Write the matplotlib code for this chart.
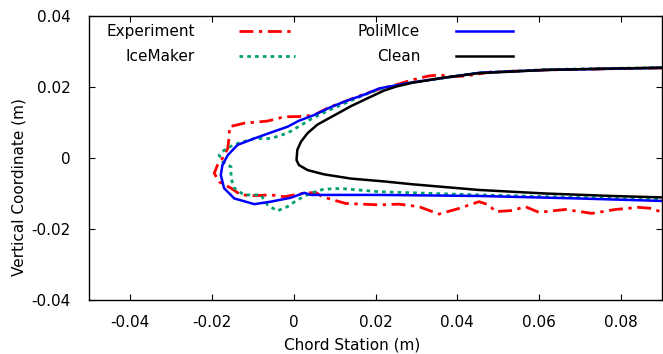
import matplotlib
matplotlib.use("Agg")
import matplotlib.pyplot as plt

# ---- data ----
clean_x = [0.0900, 0.0777, 0.0615, 0.0453, 0.0371, 0.0290, 0.0250, 0.0221, 0.0180, 0.0140,
           0.0099, 0.0058, 0.0034, 0.0018, 0.0009, 0.0007, 0.0013, 0.0034, 0.0074, 0.0140,
           0.0221, 0.0290, 0.0452, 0.0615, 0.0778, 0.0900]
clean_y = [0.0254, 0.0252, 0.0248, 0.0239, 0.0227, 0.0212, 0.0201, 0.0190, 0.0168, 0.0146,
           0.0120, 0.0094, 0.0070, 0.0046, 0.0023, -0.0006, -0.0020, -0.0034, -0.0046, -0.0058,
           -0.0066, -0.0074, -0.0090, -0.0100, -0.0107, -0.0111]

poli_x = [0.0900, 0.0615, 0.0453, 0.0290, 0.0209, 0.0176, 0.0127, 0.0090, 0.0050, 0.0013,
          -0.0015, -0.0055, -0.0096, -0.0137, -0.0161, -0.0174, -0.0178, -0.0170, -0.0145, -0.0096,
          -0.0056, -0.0007, 0.0026, 0.0042, 0.0111, 0.0209, 0.0453, 0.0696, 0.0900]
poli_y = [0.0254, 0.0248, 0.0240, 0.0213, 0.0196, 0.0180, 0.0160, 0.0143, 0.0121, 0.0105,
          0.0088, 0.0072, 0.0055, 0.0037, 0.0008, -0.0020, -0.0048, -0.0085, -0.0114, -0.0130,
          -0.0123, -0.0112, -0.0098, -0.0104, -0.0104, -0.0104, -0.0107, -0.0114, -0.0121]

ice_x = [0.0900, 0.0615, 0.0453, 0.0290, 0.0209, 0.0167, 0.0127, 0.0087, 0.0062, 0.0046,
         0.0026, -0.0015, -0.0056, -0.0096, -0.0137, -0.0165, -0.0182, -0.0174, -0.0153, -0.0153,
         -0.0145, -0.0121, -0.0080, -0.0064, -0.0040, -0.0015, 0.0009, 0.0042, 0.0070, 0.0100,
         0.0127, 0.0209, 0.0453, 0.0900]
ice_y = [0.0255, 0.0249, 0.0240, 0.0213, 0.0194, 0.0175, 0.0155, 0.0135, 0.0121, 0.0112,
         0.0098, 0.0070, 0.0055, 0.0055, 0.0041, 0.0027, 0.0008, -0.0010, -0.0025, -0.0057,
         -0.0085, -0.0104, -0.0104, -0.0132, -0.0149, -0.0137, -0.0118, -0.0099, -0.0089, -0.0086,
         -0.0087, -0.0095, -0.0104, -0.0117]

exp_x = [0.0900, 0.0615, 0.0480, 0.0420, 0.0387, 0.0355, 0.0330, 0.0290, 0.0249, 0.0209,
         0.0168, 0.0127, 0.0087, 0.0050, 0.0021, -0.0023, -0.0064, -0.0121, -0.0157, -0.0157,
         -0.0161, -0.0174, -0.0186, -0.0194, -0.0182, -0.0153, -0.0129, -0.0096, -0.0056, -0.0023,
         0.0001, 0.0026, 0.0054, 0.0070, 0.0127, 0.0209, 0.0257, 0.0306, 0.0355, 0.0404,
         0.0453, 0.0477, 0.0493, 0.0534, 0.0566, 0.0599, 0.0664, 0.0729, 0.0786, 0.0843,
         0.0875, 0.0900]
exp_y = [0.0254, 0.0248, 0.0242, 0.0231, 0.0229, 0.0234, 0.0231, 0.0220, 0.0206, 0.0194,
         0.0178, 0.0160, 0.0143, 0.0121, 0.0117, 0.0116, 0.0104, 0.0098, 0.0088, 0.0065,
         0.0027, -0.0001, -0.0020, -0.0043, -0.0067, -0.0085, -0.0104, -0.0106, -0.0104, -0.0109,
         -0.0104, -0.0099, -0.0097, -0.0109, -0.0128, -0.0132, -0.0130, -0.0137, -0.0158, -0.0142,
         -0.0123, -0.0132, -0.0151, -0.0148, -0.0137, -0.0153, -0.0145, -0.0156, -0.0145, -0.0139,
         -0.0142, -0.0153]

x_ticks = [-0.04, -0.02, 0, 0.02, 0.04, 0.06, 0.08]
x_tick_labels = ["-0.04", "-0.02", "0", "0.02", "0.04", "0.06", "0.08"]
y_ticks = [-0.04, -0.02, 0, 0.02, 0.04]
y_tick_labels = ["-0.04", "-0.02", "0", "0.02", "0.04"]

plt.rcParams['font.family'] = ['DejaVu Sans']
fig = plt.figure(figsize=(6.63, 3.54), dpi=100)
ax = fig.add_axes([89/663, 54/354, 573/663, 284/354])

h_exp, = ax.plot(exp_x, exp_y, color='#ff0000', lw=2, dashes=(5, 2, 1.2, 2), label='Experiment')
h_ice, = ax.plot(ice_x, ice_y, color='#009e73', lw=2, dashes=(1.3, 1.5), label='IceMaker')
h_poli, = ax.plot(poli_x, poli_y, color='#0000ff', lw=1.8, label='PoliMIce')
h_clean, = ax.plot(clean_x, clean_y, color='black', lw=1.8, label='Clean')

ax.set_xlim(-0.05, 0.09)
ax.set_ylim(-0.04, 0.04)
ax.set_xticks(x_ticks)
ax.set_xticklabels(x_tick_labels)
ax.set_yticks(y_ticks)
ax.set_yticklabels(y_tick_labels)
ax.tick_params(direction='in', top=True, right=True, length=4, width=0.8,
               labelsize=11, colors='black')
ax.tick_params(axis='y', pad=13)
ax.tick_params(axis='x', pad=11)
for s in ax.spines.values():
    s.set_linewidth(1.0)

ax.set_xlabel('Chord Station (m)', fontsize=11)
ax.set_ylabel('Vertical Coordinate (m)', fontsize=11)
ax.xaxis.set_label_coords((352 - 89) / 573, -(345 - 300) / 284)
ax.yaxis.set_label_coords(-(89 - 19) / 573, (300 - 187) / 284)
ax.xaxis.label.set_va('center')
ax.yaxis.label.set_va('center')

leg_kw = dict(loc='upper right', markerfirst=False, frameon=False, fontsize=11,
              labelspacing=0.62, borderpad=0, borderaxespad=0)
leg1 = ax.legend(handles=[h_exp, h_ice], bbox_to_anchor=((295 - 89) / 573, 1 - 8.5 / 284),
                 handlelength=3.66, handletextpad=2.88, **leg_kw)
ax.add_artist(leg1)
ax.legend(handles=[h_poli, h_clean], bbox_to_anchor=((513 - 89) / 573, 1 - 8.5 / 284),
          handlelength=3.73, handletextpad=2.35, **leg_kw)

fig.savefig('out.png', dpi=100)
